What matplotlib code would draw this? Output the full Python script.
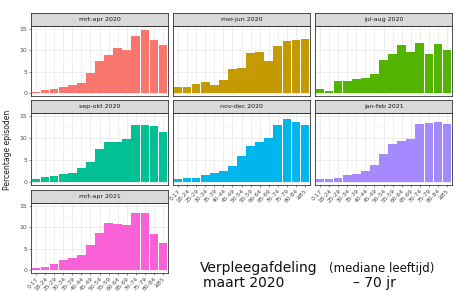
import matplotlib
matplotlib.use("Agg")
import matplotlib.pyplot as plt
import numpy as np

W, H = 457, 291

age_groups = ["0-17", "18-24", "25-29", "30-34", "35-39", "40-44", "45-49", "50-54",
              "55-59", "60-64", "65-69", "70-74", "75-79", "80-84", "≥85"]

periods = ["mrt–apr 2020", "mei–jun 2020", "jul–aug 2020", "sep–okt 2020",
           "nov–dec 2020", "jan–feb 2021", "mrt–apr 2021"]

mrt_apr_2020 = [0.3, 0.7, 1.0, 1.3, 1.8, 2.3, 4.6, 7.6, 8.9, 10.5, 10.1, 13.5, 14.9, 12.4, 11.3]
mei_jun_2020 = [1.3, 1.3, 2.0, 2.6, 1.9, 3.0, 5.5, 5.9, 9.3, 9.6, 7.6, 11.1, 12.3, 12.4, 12.7]
jul_aug_2020 = [1.0, 0.4, 2.7, 2.7, 3.3, 3.6, 4.4, 7.8, 9.1, 11.3, 9.7, 11.8, 9.1, 11.4, 10.1]
sep_okt_2020 = [0.6, 1.0, 1.4, 1.7, 2.0, 3.1, 4.6, 7.5, 9.0, 9.0, 9.9, 13.1, 12.9, 12.7, 11.5]
nov_dec_2020 = [0.7, 0.9, 0.9, 1.6, 1.9, 2.5, 3.7, 6.0, 8.1, 9.2, 10.0, 13.0, 14.4, 13.7, 13.1]
jan_feb_2021 = [0.7, 0.7, 0.9, 1.6, 1.7, 2.5, 3.9, 6.3, 8.7, 9.3, 9.8, 13.3, 13.4, 13.6, 13.2]
mrt_apr_2021 = [0.5, 0.7, 1.4, 2.4, 2.7, 3.4, 5.8, 8.7, 11.1, 10.8, 10.6, 13.5, 13.5, 8.5, 6.3]

series = [mrt_apr_2020, mei_jun_2020, jul_aug_2020, sep_okt_2020,
          nov_dec_2020, jan_feb_2021, mrt_apr_2021]

colors = ["#F8766D", "#C49A00", "#53B400", "#00C094", "#00B6EB", "#A58AFF", "#FB61D7"]

y_ticks = [0, 5, 10, 15]

fig = plt.figure(figsize=(W / 100, H / 100), dpi=100)
fig.patch.set_facecolor("white")

cols_px = [(31, 168), (173, 310), (315, 452)]
rows_px = [((13, 26), (26, 96)), ((100, 113), (113, 185)), ((190, 203), (203, 273))]


def rect(x0, x1, y0, y1):
    return [x0 / W, 1 - y1 / H, (x1 - x0) / W, (y1 - y0) / H]


x = np.arange(len(age_groups))
for i, (name, vals, col) in enumerate(zip(periods, series, colors)):
    r, c = divmod(i, 3)
    (sy0, sy1), (py0, py1) = rows_px[r]
    cx0, cx1 = cols_px[c]
    ax = fig.add_axes(rect(cx0, cx1, py0, py1))
    ax.set_facecolor("white")
    ax.bar(x, vals, width=0.9, color=col, zorder=3)
    ax.set_xlim(-0.6, len(age_groups) - 0.4)
    ax.set_ylim(-0.75, 15.75)
    ax.set_yticks(y_ticks)
    ax.set_yticks([2.5, 7.5, 12.5], minor=True)
    ax.grid(True, which="major", axis="y", color="#EBEBEB", lw=0.6, zorder=0)
    ax.grid(True, which="minor", axis="y", color="#F4F4F4", lw=0.3, zorder=0)
    ax.set_xticks(x)
    ax.grid(True, which="major", axis="x", color="#EBEBEB", lw=0.6, zorder=0)
    for s in ax.spines.values():
        s.set_color("#333333")
        s.set_linewidth(0.6)
    ax.tick_params(axis="both", which="both", length=1.5, width=0.4, colors="#333333",
                   labelsize=4.5, labelcolor="#4D4D4D", pad=1)
    ax.tick_params(axis="y", which="minor", length=0)
    if c == 0:
        ax.set_yticklabels([str(t) for t in y_ticks])
    else:
        ax.tick_params(axis="y", which="both", length=0, labelleft=False)
    bottom_panel = (i >= 4)
    if bottom_panel:
        ax.set_xticklabels(age_groups, rotation=45, ha="right", rotation_mode="anchor",
                           fontsize=4.2)
    else:
        ax.tick_params(axis="x", length=0, labelbottom=False)
    # strip
    sax = fig.add_axes(rect(cx0, cx1, sy0, sy1))
    sax.set_facecolor("#D9D9D9")
    sax.set_xticks([])
    sax.set_yticks([])
    for s in sax.spines.values():
        s.set_color("#333333")
        s.set_linewidth(0.6)
    sax.text(0.5, 0.5, name.replace("–", "-"), ha="center", va="center",
             fontsize=4.5, color="#1A1A1A", transform=sax.transAxes)

fig.text(8 / W, 1 - 150 / H, "Percentage episoden", rotation=90, ha="center", va="center",
         fontsize=5.5, color="#1A1A1A")

fig.text(200 / W, 1 - 272 / H, "Verpleegafdeling", ha="left", va="baseline",
         fontsize=10, color="#111111")
fig.text(329 / W, 1 - 272 / H, "(mediane leeftijd)", ha="left", va="baseline",
         fontsize=8.5, color="#111111")
fig.text(203 / W, 1 - 287 / H, "maart 2020", ha="left", va="baseline",
         fontsize=10, color="#111111")
fig.text(353 / W, 1 - 287 / H, "– 70 jr", ha="left", va="baseline",
         fontsize=10, color="#111111")

fig.savefig("out.png", dpi=100, facecolor="white")
